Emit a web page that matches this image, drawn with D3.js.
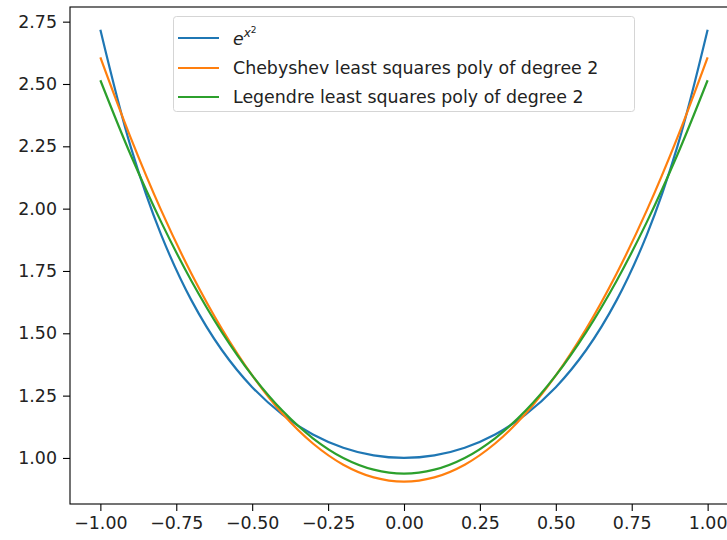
<!DOCTYPE html>
<html>
<head>
<meta charset="utf-8">
<script src="https://cdn.jsdelivr.net/npm/d3@7"></script>
<style>
  body { margin: 0; background: #fff; }
  svg { display: block; font-family: "DejaVu Sans", sans-serif; }
</style>
</head>
<body>
<div id="chart"></div>
<script>
const xs = [-1.0, -0.9, -0.8, -0.7, -0.6, -0.5, -0.4, -0.3, -0.2, -0.1, 0.0,
            0.1, 0.2, 0.3, 0.4, 0.5, 0.6, 0.7, 0.8, 0.9, 1.0]

const expVals = [2.718, 2.248, 1.896, 1.632, 1.433, 1.284, 1.174, 1.094, 1.041, 1.010, 1.000,
                 1.010, 1.041, 1.094, 1.174, 1.284, 1.433, 1.632, 1.896, 2.248, 2.718]
const chebVals = [2.607, 2.284, 1.994, 1.739, 1.518, 1.331, 1.177, 1.058, 0.973, 0.922, 0.905,
                  0.922, 0.973, 1.058, 1.177, 1.331, 1.518, 1.739, 1.994, 2.284, 2.607]
const legVals = [2.515, 2.215, 1.947, 1.710, 1.505, 1.331, 1.189, 1.079, 1.000, 0.953, 0.937,
                 0.953, 1.000, 1.079, 1.189, 1.331, 1.505, 1.710, 1.947, 2.215, 2.515]

const xTicks = [-1.0, -0.75, -0.5, -0.25, 0.0, 0.25, 0.5, 0.75, 1.0]
const yTicks = [1.0, 1.25, 1.5, 1.75, 2.0, 2.25, 2.5, 2.75]

const seriesNames = ["exp", "Chebyshev least squares poly of degree 2", "Legendre least squares poly of degree 2"]
const colors = ["#1f77b4", "#ff7f0e", "#2ca02c"]

const dimensions = {
    width: 727,
    height: 540,
    margin: { top: 7, left: 70, bottom: 36, right: -11 }
}

const svg = d3.select("#chart")
    .append("svg")
    .attr("width", dimensions.width)
    .attr("height", dimensions.height)

const plotW = dimensions.width - dimensions.margin.left - dimensions.margin.right
const plotH = dimensions.height - dimensions.margin.top - dimensions.margin.bottom

const x = d3.scaleLinear().domain([-1.1, 1.1]).range([dimensions.margin.left, dimensions.margin.left + plotW])
const y = d3.scaleLinear().domain([0.8153, 2.8088]).range([dimensions.margin.top + plotH, dimensions.margin.top])

const fmt = v => d3.format(".2f")(v).replace("-", "\u2212")

// Axes
const xAxis = svg.append("g")
    .attr("transform", `translate(0,${dimensions.margin.top + plotH})`)
    .call(d3.axisBottom(x).tickValues(xTicks).tickFormat(fmt).tickSize(7).tickPadding(6))
const yAxis = svg.append("g")
    .attr("transform", `translate(${dimensions.margin.left},0)`)
    .call(d3.axisLeft(y).tickValues(yTicks).tickFormat(fmt).tickSize(7).tickPadding(6))

for (const ax of [xAxis, yAxis]) {
    ax.select(".domain").remove()
    ax.selectAll(".tick line").attr("stroke", "#000").attr("stroke-width", 1.1)
    ax.selectAll(".tick text").attr("fill", "#222").attr("font-size", 17.4)
        .attr("font-family", "DejaVu Sans, sans-serif")
}

// Lines
const line = d3.line()
    .x((d, i) => x(xs[i]))
    .y(d => y(d))
    .curve(d3.curveCatmullRom)

const clip = svg.append("clipPath").attr("id", "clip")
    .append("rect")
    .attr("x", dimensions.margin.left).attr("y", dimensions.margin.top)
    .attr("width", plotW).attr("height", plotH)

svg.append("g")
    .attr("clip-path", "url(#clip)")
    .selectAll("path")
    .data([expVals, chebVals, legVals])
    .join("path")
    .attr("d", line)
    .attr("fill", "none")
    .attr("stroke", (d, i) => colors[i])
    .attr("stroke-width", 2.2)

// Frame
svg.append("rect")
    .attr("x", dimensions.margin.left)
    .attr("y", dimensions.margin.top)
    .attr("width", plotW)
    .attr("height", plotH)
    .attr("fill", "none")
    .attr("stroke", "#000")
    .attr("stroke-width", 1.1)

// Legend
const legend = svg.append("g")
legend.append("rect")
    .attr("x", 173.5).attr("y", 16.5)
    .attr("width", 461).attr("height", 95)
    .attr("rx", 3)
    .attr("fill", "#fff").attr("fill-opacity", 0.8)
    .attr("stroke", "#d5d5d5")

const rowY = [38, 68, 97]
const rows = legend.selectAll("g.row")
    .data(seriesNames)
    .join("g")
    .attr("class", "row")
    .attr("transform", (d, i) => `translate(0,${rowY[i]})`)

rows.append("line")
    .attr("x1", 178).attr("x2", 219)
    .attr("stroke", (d, i) => colors[i])
    .attr("stroke-width", 2.2)

rows.filter((d, i) => i > 0)
    .append("text")
    .attr("x", 233).attr("y", 6)
    .attr("font-size", 17.4)
    .attr("fill", "#222")
    .text(d => d)

const expLabel = rows.filter((d, i) => i === 0)
    .append("text")
    .attr("x", 233).attr("y", 7)
    .attr("fill", "#222")
    .attr("font-style", "italic")
expLabel.append("tspan").attr("font-size", 17.4).text("e")
expLabel.append("tspan").attr("font-size", 12).attr("dy", -8).text("x")
expLabel.append("tspan").attr("font-size", 9).attr("font-style", "normal").attr("dy", -4).text("2")
</script>
</body>
</html>
